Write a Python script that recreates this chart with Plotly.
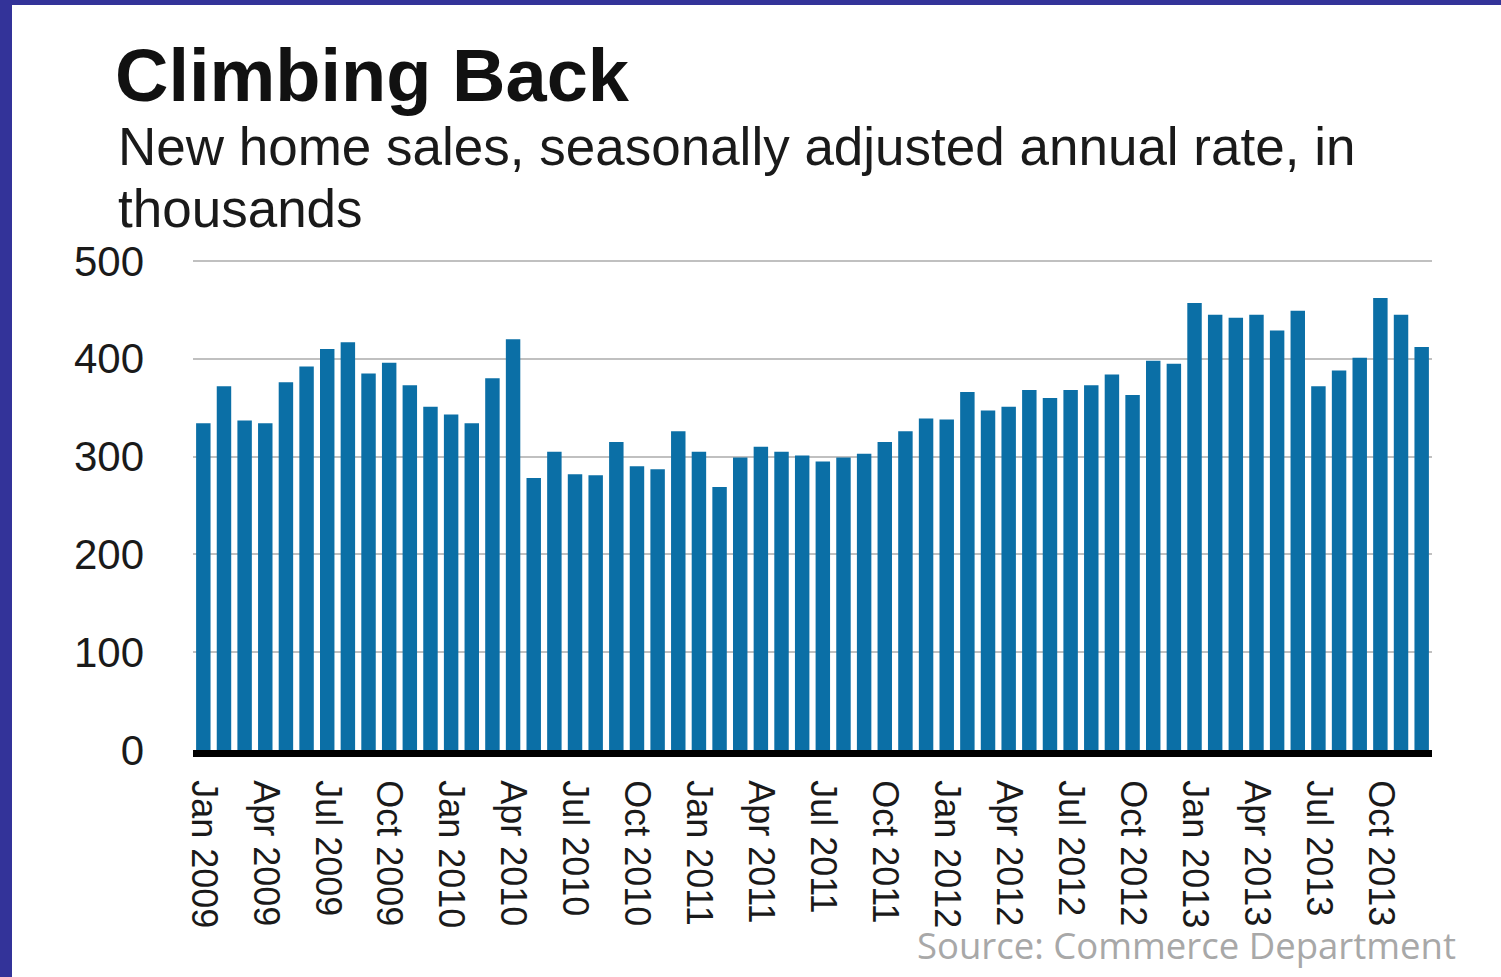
import plotly.graph_objects as go

months = ["Jan", "Feb", "Mar", "Apr", "May", "Jun", "Jul", "Aug", "Sep", "Oct", "Nov", "Dec"]
years = [2009, 2010, 2011, 2012, 2013]
categories = [f"{m} {y}" for y in years for m in months]

sales = [334, 372, 337, 334, 376, 392, 410, 417, 385, 396,
         373, 351, 343, 334, 380, 420, 278, 305, 282, 281,
         315, 290, 287, 326, 305, 269, 299, 310, 305, 301,
         295, 299, 303, 315, 326, 339, 338, 366, 347, 351,
         368, 360, 368, 373, 384, 363, 398, 395, 457, 445,
         442, 445, 429, 449, 372, 388, 401, 462, 445, 412]

tick_labels = categories[::3]
y_ticks = [0, 100, 200, 300, 400, 500]

W, H = 1501, 977
ML, MR, MT, MB = 193, 69, 259, 227
PW, PH = W - ML - MR, H - MT - MB


def px(x):
    return (x - ML) / PW


def py(y):
    return (H - MB - y) / PH


FONT = "Liberation Sans, Arial, Helvetica, sans-serif"

fig = go.Figure(go.Bar(
    x=categories, y=sales,
    marker=dict(color="#0b6fa6", line=dict(width=0)),
))

fig.update_layout(
    width=W, height=H, autosize=False,
    margin=dict(l=ML, r=MR, t=MT, b=MB),
    paper_bgcolor="white", plot_bgcolor="white",
    bargap=0.3, showlegend=False,
    font=dict(family=FONT, color="#1a1a1a"),
    xaxis=dict(
        type="category", tickmode="array", tickvals=tick_labels, ticktext=tick_labels,
        tickangle=90, tickfont=dict(size=36, color="#1a1a1a", family=FONT),
        showgrid=False, showline=True, linecolor="black", linewidth=7,
        ticks="", ticklabelstandoff=16,
    ),
    yaxis=dict(
        range=[0, 502], tickvals=y_ticks, showgrid=True, gridcolor="#c0c0c0", gridwidth=2,
        zeroline=False, showline=False, ticks="",
        tickfont=dict(size=42, color="#1a1a1a", family=FONT), ticklabelstandoff=48,
    ),
    annotations=[
        dict(text="<b>Climbing Back</b>", xref="paper", yref="paper", x=px(113), y=py(76),
             xanchor="left", yanchor="middle", showarrow=False,
             font=dict(size=74, color="#111111", family=FONT)),
        dict(text="New home sales, seasonally adjusted annual rate, in", xref="paper", yref="paper",
             x=px(116), y=py(147), xanchor="left", yanchor="middle", showarrow=False,
             font=dict(size=53, color="#1a1a1a", family=FONT)),
        dict(text="thousands", xref="paper", yref="paper",
             x=px(116), y=py(208), xanchor="left", yanchor="middle", showarrow=False,
             font=dict(size=53, color="#1a1a1a", family=FONT)),
        dict(text="Source: Commerce Department", xref="paper", yref="paper",
             x=px(1458), y=py(945), xanchor="right", yanchor="middle", showarrow=False,
             font=dict(size=36.5, color="#a8a8a8", family="Open Sans, Noto Sans, sans-serif")),
    ],
    shapes=[
        dict(type="rect", xref="paper", yref="paper", x0=px(0), x1=px(12), y0=py(H), y1=py(0),
             fillcolor="#333399", line=dict(width=0), layer="above"),
        dict(type="rect", xref="paper", yref="paper", x0=px(0), x1=px(W), y0=py(5), y1=py(0),
             fillcolor="#333399", line=dict(width=0), layer="above"),
    ],
)

fig.write_html("out.html")
